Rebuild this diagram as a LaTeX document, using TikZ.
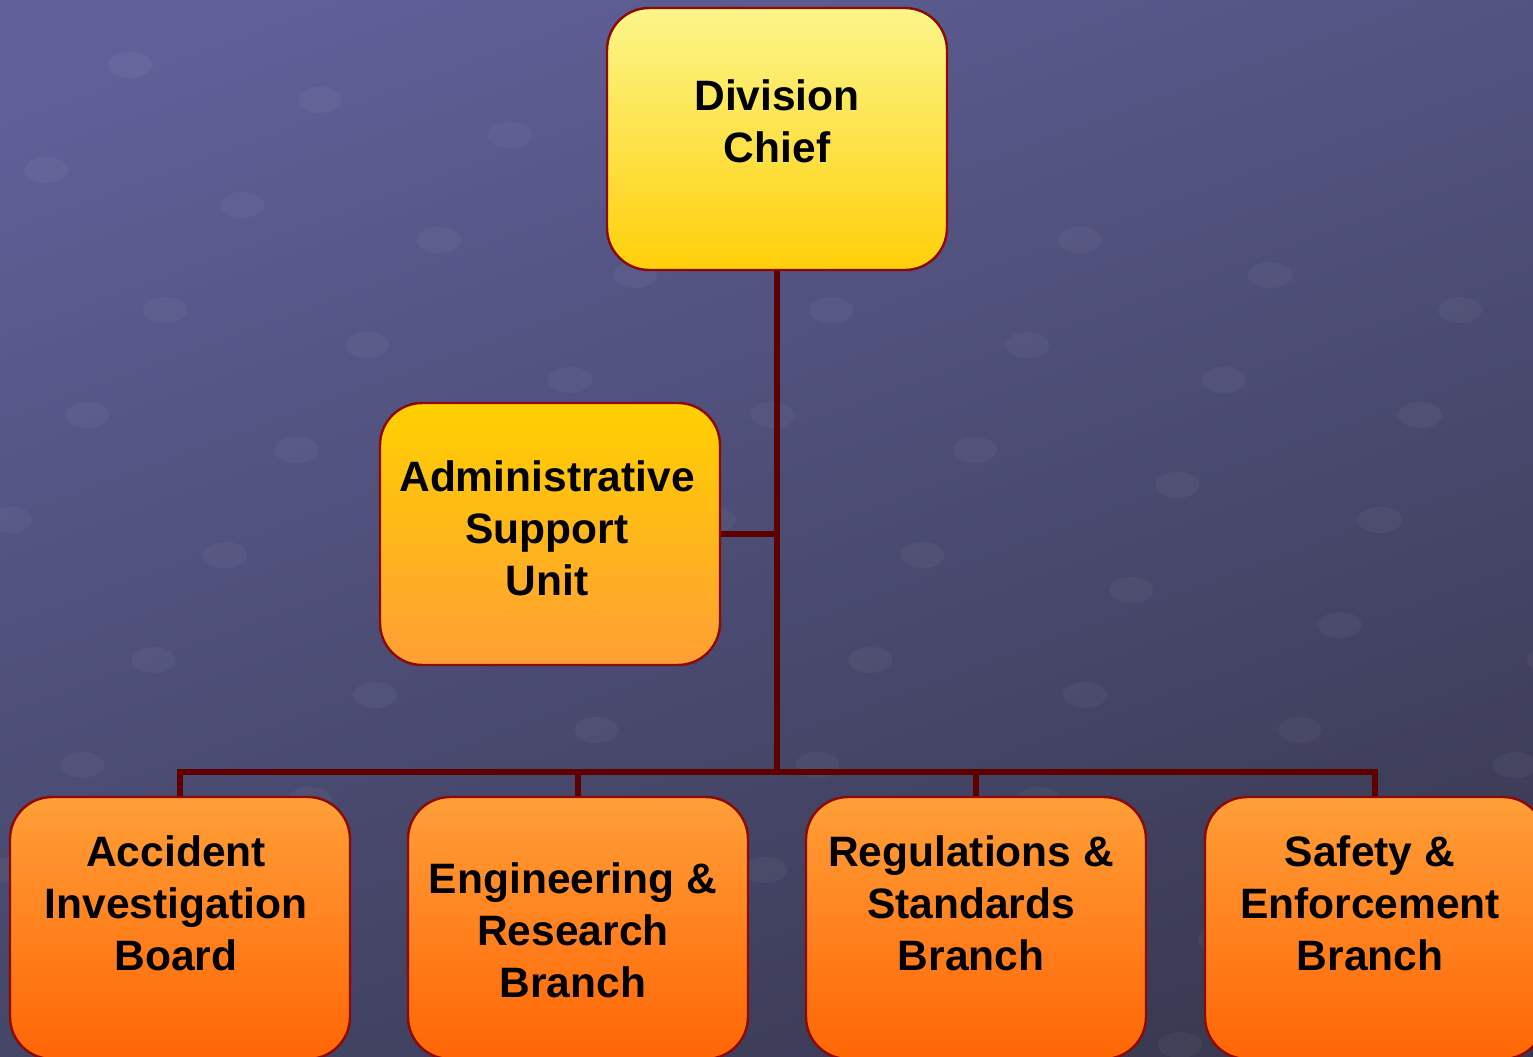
\documentclass[tikz,border=0pt]{standalone}
\usepackage{fontspec}
\setmainfont{Liberation Sans}
\usepackage{tikz}
\usetikzlibrary{positioning}
\definecolor{boxline}{HTML}{8B0A0A}
\definecolor{linkline}{HTML}{5E0000}
\definecolor{bgtop}{HTML}{60619A}
\definecolor{bgbottom}{HTML}{38384F}

\begin{document}
\begin{tikzpicture}[
    unit/.style={draw=boxline, line width=0.7pt, rounded corners=0.42cm,
      minimum width=3.4cm, minimum height=2.62cm, inner sep=0pt},
    unittext/.style={align=center, font=\fontsize{12.1}{14.8}\selectfont\bfseries},
    link/.style={draw=linkline, line width=1.8pt}]
              \clip (0, 0) rectangle (15.33, -10.57);
              \shade[top color=bgtop, bottom color=bgbottom, shading angle=20] (-1, 1) rectangle (16.33, -11.57);
              % faint dots of the backdrop
              \foreach \i in {0,...,9} {
                \foreach \j in {0,...,7} {
                  \fill[white, opacity=0.04] ({-0.6 + 1.9*\i - 0.9*\j + 0.25*\i*\j/4}, {-0.3 - 1.05*\j - 0.35*\i}) ellipse (0.22 and 0.13);
                }
              }
              % boxes
              \node[unit, top color={rgb,255:red,251;green,246;blue,138}, bottom color={rgb,255:red,255;green,207;blue,10}] (chief) at (7.77, -1.39) {};
              \node[unit, top color={rgb,255:red,255;green,208;blue,0}, bottom color={rgb,255:red,255;green,158;blue,53}] (admin) at (5.50, -5.34) {};
              \node[unit, top color={rgb,255:red,255;green,159;blue,56}, bottom color={rgb,255:red,255;green,101;blue,5}] (accident) at (1.80, -9.28) {};
              \node[unit, top color={rgb,255:red,255;green,159;blue,56}, bottom color={rgb,255:red,255;green,101;blue,5}] (engineering) at (5.78, -9.28) {};
              \node[unit, top color={rgb,255:red,255;green,159;blue,56}, bottom color={rgb,255:red,255;green,101;blue,5}] (regulations) at (9.76, -9.28) {};
              \node[unit, top color={rgb,255:red,255;green,159;blue,56}, bottom color={rgb,255:red,255;green,101;blue,5}] (safety) at (13.75, -9.28) {};
              % texts
              \node[unittext] (chieftext) at ([yshift=0.18cm]chief.center) {Division\\Chief};
              \node[unittext] (admintext) at ([xshift=-0.03cm, yshift=0.06cm]admin.center) {Administrative\\Support\\Unit};
              \node[unittext] (accidenttext) at ([xshift=-0.04cm, yshift=0.25cm]accident.center) {Accident\\Investigation\\Board};
              \node[unittext] (engineeringtext) at ([xshift=-0.05cm, yshift=-0.02cm]engineering.center) {Engineering \&\\Research\\Branch};
              \node[unittext] (regulationstext) at ([xshift=-0.05cm, yshift=0.25cm]regulations.center) {Regulations \&\\Standards\\Branch};
              \node[unittext] (safetytext) at ([xshift=-0.05cm, yshift=0.25cm]safety.center) {Safety \&\\Enforcement\\Branch};
              % connectors
              \coordinate (bus) at (7.77, -7.72);
              \draw[link] (chief.south) -- (bus);
              \draw[link] (admin.east) -- (admin.east -| bus);
              \draw[link] (accident.north) |- (bus);
              \draw[link] (engineering.north) |- (bus);
              \draw[link] (regulations.north) |- (bus);
              \draw[link] (safety.north) |- (bus);
            \end{tikzpicture}
\end{document}
